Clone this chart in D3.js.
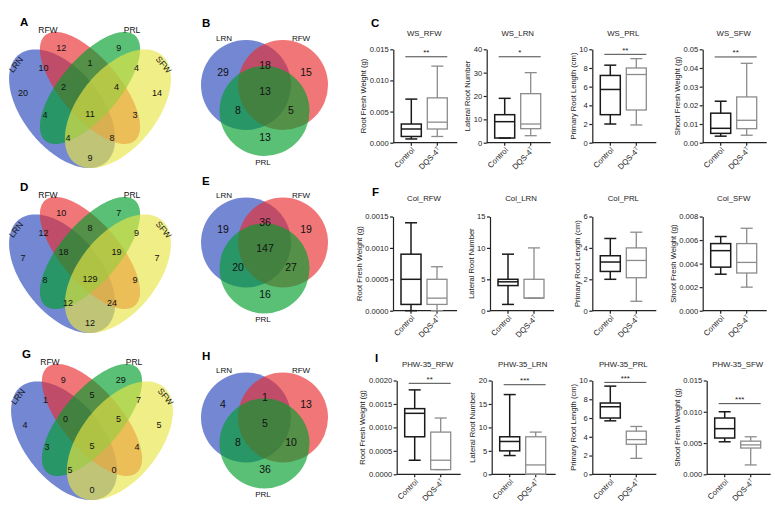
<!DOCTYPE html>
<html><head><meta charset="utf-8">
<script src="https://cdn.jsdelivr.net/npm/d3@7"></script>
<style>body{margin:0;background:#fff} svg{display:block} text{font-family:"Liberation Sans",Arial,Helvetica,sans-serif}</style>
</head><body><svg id="fig" width="775" height="512"></svg>
<script>
// ================= DATA =================
const quadSetNames = ["LRN","RFW","PRL","SFW"];
const quadRegions = ["LRN","RFW","PRL","SFW","LRN&RFW","RFW&PRL","PRL&SFW","LRN&PRL","RFW&SFW","LRN&SFW",
  "LRN&RFW&PRL","RFW&PRL&SFW","LRN&PRL&SFW","LRN&RFW&SFW","LRN&RFW&PRL&SFW"];
const vennA = [20,12,9,14,10,1,4,4,3,9,2,4,4,8,11];
const vennD = [7,10,7,7,12,8,9,8,9,12,18,19,12,24,129];
const vennG = [4,9,29,5,1,5,7,3,4,0,0,5,5,0,5];

const triSetNames = ["LRN","RFW","PRL"];
const triRegions = ["LRN","RFW","PRL","LRN&RFW","LRN&PRL","RFW&PRL","LRN&RFW&PRL"];
const vennB = [29,15,13,18,8,5,13];
const vennE = [19,19,16,36,20,27,147];
const vennH = [4,13,36,1,8,10,5];

const groups = ["Control","DQS-4T"];
// box statistics per group: [min, Q1, median, Q3, max]
const WS_RFW  = [[0.0006,0.0010,0.0022,0.0030,0.0070],[0.0010,0.0022,0.0033,0.0072,0.0123]];
const WS_LRN  = [[2,2,9,12,19],[3,6,8,21,30]];
const WS_PRL  = [[2.0,3.0,5.7,7.2,8.3],[1.9,3.5,7.3,8.0,9.0]];
const WS_SFW  = [[0.0035,0.0050,0.0077,0.0158,0.0222],[0.0040,0.0075,0.0120,0.0245,0.0425]];
const Col_RFW = [[0.0,0.0001,0.0005,0.0009,0.0014],[0.0,0.0001,0.0002,0.0005,0.0007]];
const Col_LRN = [[1,4,4.6,5,9],[2,2,2,5,10]];
const Col_PRL = [[2.0,2.5,3.1,3.5,4.6],[0.6,2.1,3.2,4.0,5.0]];
const Col_SFW = [[0.0031,0.0037,0.0051,0.0057,0.0063],[0.0020,0.0032,0.0041,0.0057,0.0070]];
const PHW_RFW = [[0.0003,0.0008,0.0013,0.0014,0.0018],[0.0001,0.0001,0.0003,0.0009,0.0012]];
const PHW_LRN = [[4,5,7,8,17],[0,0,2,8,9]];
const PHW_PRL = [[5.7,6.0,7.2,7.6,9.4],[1.7,3.2,3.7,4.6,5.1]];
const PHW_SFW = [[0.0052,0.0058,0.0073,0.0090,0.0100],[0.0015,0.0042,0.0047,0.0053,0.0060]];

// tick labels
const ticksRFW_WS = [0,0.005,0.010,0.015];
const ticksLRN_WS = [0,10,20,30,40];
const ticksPRL10  = [0,2,4,6,8,10];
const ticksSFW_WS = [0,0.01,0.02,0.03,0.04,0.05];
const ticksRFW_Col= [0,0.0005,0.0010,0.0015];
const ticksLRN_Col= [0,5,10,15];
const ticksPRL_Col= [0,2,4,6];
const ticksSFW_Col= [0,0.002,0.004,0.006,0.008];
const ticksRFW_PHW= [0,0.0005,0.0010,0.0015,0.0020];
const ticksLRN_PHW= [0,5,10,15,20];
const ticksSFW_PHW= [0,0.005,0.010,0.015];

// significance: [value, stars]
const sigWS  = [[0.0138,"**"],[36.8,"*"],[9.46,"**"],[0.0459,"**"]];
const sigPHW = [[0.00194,"**"],[19.1,"***"],[9.8,"***"],[0.0113,"***"]];

const yLabels = ["Root Fresh Weight (g)","Lateral Root Number","Primary Root Length (cm)","Shoot  Fresh Weight (g)"];

// ================= LAYOUT =================
const svg = d3.select("#fig");
svg.append("rect").attr("width",775).attr("height",512).attr("fill","#fff");
const FONT = '"Liberation Sans",Arial,Helvetica,sans-serif';
const setColors = {LRN:"#2847ba", RFW:"#e82d30", PRL:"#009e2d", SFW:"#e8e547"};
const ALPHA = 0.65;

// quad venn geometry (unit coordinates, y up), VennDiagram style
const quadEllipses = [
  {cx:0.35, cy:0.47, a:0.35, b:0.20, rot:135, set:"LRN"},
  {cx:0.50, cy:0.57, a:0.35, b:0.15, rot:135, set:"RFW"},
  {cx:0.50, cy:0.57, a:0.35, b:0.15, rot:45,  set:"PRL"},
  {cx:0.65, cy:0.47, a:0.35, b:0.20, rot:45,  set:"SFW"}
];
const quadLabelPos = [
  [0.140,0.546],[0.345,0.765],[0.655,0.765],[0.860,0.546],
  [0.250,0.668],[0.500,0.690],[0.750,0.668],[0.258,0.442],[0.742,0.442],[0.500,0.233],
  [0.357,0.573],[0.643,0.573],[0.382,0.329],[0.618,0.329],[0.500,0.445]
];
const quadCatPos = [[0.102,0.682,-52],[0.274,0.849,0],[0.726,0.849,0],[0.896,0.682,50]];

function drawQuad(ox, oy, values, letter) {
  const sx = d3.scaleLinear().domain([0,1]).range([ox-3, ox+183]);
  const sy = d3.scaleLinear().domain([0,1]).range([oy+206.5, oy-1.5]);
  const g = svg.append("g");
  const line = d3.line().x(d=>sx(d[0])).y(d=>sy(d[1])).curve(d3.curveLinearClosed);
  quadEllipses.forEach(e => {
    const th = e.rot*Math.PI/180;
    const pts = d3.range(0,360,2).map(t => {
      const r = t*Math.PI/180, u = e.a*Math.cos(r), v = e.b*Math.sin(r);
      return [e.cx + u*Math.cos(th) - v*Math.sin(th), e.cy + u*Math.sin(th) + v*Math.cos(th)];
    });
    g.append("path").attr("d", line(pts)).attr("fill", setColors[e.set]).attr("fill-opacity",ALPHA).attr("stroke","none");
  });
  values.forEach((v,i) => {
    g.append("text").attr("x", sx(quadLabelPos[i][0])).attr("y", sy(quadLabelPos[i][1]))
      .attr("text-anchor","middle").attr("dy","0.35em").attr("font-size",9).attr("fill","#111").text(v);
  });
  quadSetNames.forEach((n,i) => {
    const p = quadCatPos[i];
    g.append("text").attr("transform",`translate(${sx(p[0])},${sy(p[1])}) rotate(${p[2]})`)
      .attr("text-anchor","middle").attr("dy","0.35em").attr("font-size",8.5).attr("fill","#111").text(n);
  });
  g.append("text").attr("x", ox+20).attr("y", oy+26).attr("font-size",11.5).attr("font-weight","bold").text(letter);
}

// triple venn geometry (page px relative to panel origin)
const triCircles = [
  {cx:246, cy:85, r:45, set:"LRN"},
  {cx:283, cy:85, r:45, set:"RFW"},
  {cx:264.5, cy:111, r:45, set:"PRL"}
];
const triLabelPos = [[223,72],[306,72],[265,137],[265,65],[238,110],[291,110],[265,91]];
const triCatPos = [[224,38],[301,38],[263,162]];

function drawTri(ox, oy, values, letter) {
  const tx = d3.scaleLinear().domain([0,1]).range([ox, ox+1]);
  const ty = d3.scaleLinear().domain([0,1]).range([oy, oy+1]);
  const g = svg.append("g");
  triCircles.forEach(c => g.append("circle").attr("cx",tx(c.cx)).attr("cy",ty(c.cy)).attr("r",c.r)
    .attr("fill",setColors[c.set]).attr("fill-opacity",ALPHA));
  values.forEach((v,i) => g.append("text").attr("x",tx(triLabelPos[i][0])).attr("y",ty(triLabelPos[i][1]))
    .attr("text-anchor","middle").attr("dy","0.35em").attr("font-size",10.5).attr("fill","#111").text(v));
  triSetNames.forEach((n,i) => g.append("text").attr("x",tx(triCatPos[i][0])).attr("y",ty(triCatPos[i][1]))
    .attr("text-anchor","middle").attr("dy","0.35em").attr("font-size",8).attr("fill","#111").text(n));
  g.append("text").attr("x", tx(202)).attr("y", ty(27)).attr("font-size",11.5).attr("font-weight","bold").text(letter);
}

drawQuad(0, 0, vennA, "A");
drawQuad(0, 165, vennD, "D");
drawQuad(2, 332, vennG, "G");
drawTri(0, 0, vennB, "B");
drawTri(0, 157.5, vennE, "E");
drawTri(0, 332.5, vennH, "H");

// ----- box plots -----
const rows = [{top:49.3,bottom:142.7,titleY:33,letter:"C",lx:371,ly:27},
              {top:216.5,bottom:310.7,titleY:198,letter:"F",lx:372,ly:196},
              {top:380.5,bottom:474.3,titleY:364,letter:"I",lx:375,ly:362}];
const axisXs = [[393.3,486.7,592.3,702.7],[393,490,592.3,702.7],[396.7,491.7,592.3,706.7]];

const charts = [
  {row:0,col:0,title:"WS_RFW",data:WS_RFW,ticks:ticksRFW_WS,fmt:".3f",sig:sigWS[0]},
  {row:0,col:1,title:"WS_LRN",data:WS_LRN,ticks:ticksLRN_WS,fmt:"d",sig:sigWS[1]},
  {row:0,col:2,title:"WS_PRL",data:WS_PRL,ticks:ticksPRL10,fmt:"d",sig:sigWS[2]},
  {row:0,col:3,title:"WS_SFW",data:WS_SFW,ticks:ticksSFW_WS,fmt:".2f",sig:sigWS[3]},
  {row:1,col:0,title:"Col_RFW",data:Col_RFW,ticks:ticksRFW_Col,fmt:".4f"},
  {row:1,col:1,title:"Col_LRN",data:Col_LRN,ticks:ticksLRN_Col,fmt:"d"},
  {row:1,col:2,title:"Col_PRL",data:Col_PRL,ticks:ticksPRL_Col,fmt:"d"},
  {row:1,col:3,title:"Col_SFW",data:Col_SFW,ticks:ticksSFW_Col,fmt:".3f"},
  {row:2,col:0,title:"PHW-35_RFW",data:PHW_RFW,ticks:ticksRFW_PHW,fmt:".4f",sig:sigPHW[0]},
  {row:2,col:1,title:"PHW-35_LRN",data:PHW_LRN,ticks:ticksLRN_PHW,fmt:"d",sig:sigPHW[1]},
  {row:2,col:2,title:"PHW-35_PRL",data:PHW_PRL,ticks:ticksPRL10,fmt:"d",sig:sigPHW[2]},
  {row:2,col:3,title:"PHW-35_SFW",data:PHW_SFW,ticks:ticksSFW_PHW,fmt:".3f",sig:sigPHW[3]}
];
const groupColors = ["#1a1a1a","#8c8c8c"];
const boxW = 20, capW = 12;

charts.forEach(c => {
  const R = rows[c.row], ax = axisXs[c.row][c.col];
  const g = svg.append("g");
  const y = d3.scaleLinear().domain([0, d3.max(c.ticks)]).range([R.bottom, R.top]);
  const x = d3.scalePoint().domain(groups).range([ax+18, ax+44]);
  // y axis
  const yAx = g.append("g").attr("transform",`translate(${ax},0)`)
    .call(d3.axisLeft(y).tickValues(c.ticks).tickFormat(d3.format(c.fmt)).tickSize(3).tickSizeOuter(0).tickPadding(1.5));
  yAx.select(".domain").attr("stroke","#222").attr("stroke-width",1.2);
  yAx.selectAll(".tick line").attr("stroke","#222").attr("stroke-width",1.2);
  yAx.selectAll(".tick text").attr("font-size",7.6).attr("font-family",FONT).attr("fill","#222");
  let maxW = 0; yAx.selectAll(".tick text").each(function(){ maxW = Math.max(maxW, this.getBBox().width); });
  // x axis
  g.append("line").attr("x1",ax).attr("x2",ax+64).attr("y1",R.bottom).attr("y2",R.bottom).attr("stroke","#222").attr("stroke-width",1.2);
  groups.forEach((gr,i) => {
    g.append("line").attr("x1",x(gr)).attr("x2",x(gr)).attr("y1",R.bottom).attr("y2",R.bottom+3).attr("stroke","#222").attr("stroke-width",1.2);
    const t = g.append("text").attr("transform",`translate(${x(gr)+2},${R.bottom+6}) rotate(-45)`)
      .attr("text-anchor","end").attr("dy","0.35em").attr("font-size",7.8).attr("fill","#222");
    if (gr === "DQS-4T") { t.append("tspan").text("DQS-4"); t.append("tspan").attr("font-size",5.5).attr("dy","-0.5em").text("T"); }
    else t.text(gr);
  });
  // y label
  g.append("text").attr("transform",`translate(${ax-4.5-maxW-3.5},${(R.top+R.bottom)/2}) rotate(-90)`)
    .attr("text-anchor","middle").attr("font-size",7.6).attr("fill","#222").text(yLabels[c.col]);
  // title
  g.append("text").attr("x",ax+31).attr("y",R.titleY).attr("text-anchor","middle").attr("dy","0.35em")
    .attr("font-size",7.8).attr("fill","#222").text(c.title);
  // boxes
  c.data.forEach((s,i) => {
    const cx = x(groups[i]), col = groupColors[i], sw = i===0?1.5:1.3;
    const bg = g.append("g").attr("stroke",col).attr("stroke-width",sw).attr("fill","none");
    bg.append("line").attr("x1",cx).attr("x2",cx).attr("y1",y(s[0])).attr("y2",y(s[1]));
    bg.append("line").attr("x1",cx).attr("x2",cx).attr("y1",y(s[3])).attr("y2",y(s[4]));
    bg.append("line").attr("x1",cx-capW/2).attr("x2",cx+capW/2).attr("y1",y(s[4])).attr("y2",y(s[4]));
    bg.append("line").attr("x1",cx-capW/2).attr("x2",cx+capW/2).attr("y1",y(s[0])).attr("y2",y(s[0]));
    bg.append("rect").attr("x",cx-boxW/2).attr("width",boxW).attr("y",y(s[3])).attr("height",y(s[1])-y(s[3]));
    bg.append("line").attr("x1",cx-boxW/2).attr("x2",cx+boxW/2).attr("y1",y(s[2])).attr("y2",y(s[2]));
  });
  // significance
  if (c.sig) {
    const x1 = x(groups[0]) - 6, x2 = x(groups[1]) + 10, yy = y(c.sig[0]);
    g.append("line").attr("x1",x1).attr("x2",x2).attr("y1",yy).attr("y2",yy).attr("stroke","#333").attr("stroke-width",0.9);
    g.append("text").attr("x",(x1+x2)/2).attr("y",yy-1.5).attr("text-anchor","middle").attr("font-size",8).attr("fill","#222").text(c.sig[1]);
  }
});
rows.forEach(R => svg.append("text").attr("x",R.lx).attr("y",R.ly).attr("font-size",11.5).attr("font-weight","bold").text(R.letter));
</script></body></html>
